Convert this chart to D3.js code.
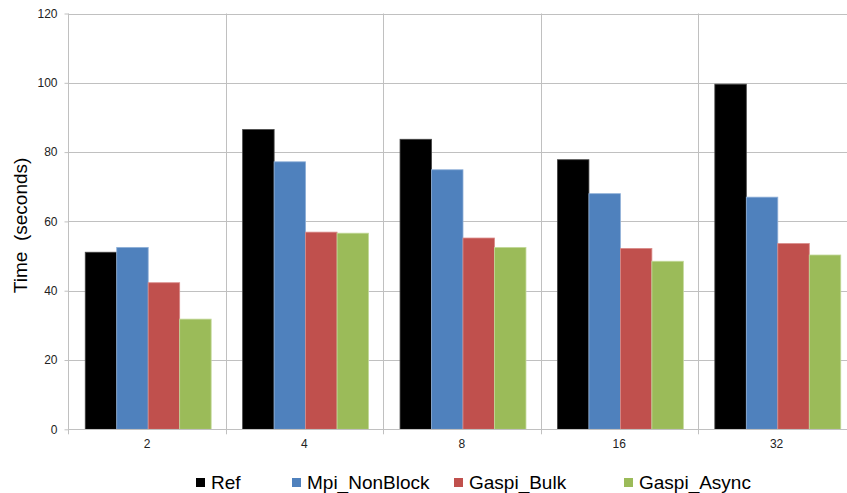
<!DOCTYPE html>
<html>
<head>
<meta charset="utf-8">
<script src="https://cdn.jsdelivr.net/npm/d3@7"></script>
<style>
  html, body { margin: 0; padding: 0; background: #fff; }
  svg { display: block; font-family: "Liberation Sans", Arial, sans-serif; }
</style>
</head>
<body>
<svg id="chart" width="847" height="493"></svg>
<script>
const categories = ["2", "4", "8", "16", "32"];
const seriesNames = ["Ref", "Mpi_NonBlock", "Gaspi_Bulk", "Gaspi_Async"];
const refValues = [51.1, 86.5, 83.7, 77.8, 99.6];
const mpiNonBlockValues = [52.5, 77.2, 74.9, 68.0, 67.0];
const gaspiBulkValues = [42.3, 56.9, 55.2, 52.2, 53.6];
const gaspiAsyncValues = [31.8, 56.6, 52.5, 48.5, 50.3];
const yTicks = [0, 20, 40, 60, 80, 100, 120];
const colors = ["#000000", "#4F81BD", "#C0504D", "#9BBB59"];
const strokes = ["#444444", "#8fb0d8", "#d98a88", "#c3d99a"];

const seriesValues = [refValues, mpiNonBlockValues, gaspiBulkValues, gaspiAsyncValues];

const svg = d3.select("#chart");
const plotLeft = 68.3, plotTop = 13.5, plotBottom = 429.3;
const band = 157.4;
const plotRight = plotLeft + band * categories.length;

const x = d3.scaleBand().domain(categories).range([plotLeft, plotRight]).padding(0);
const x1 = d3.scaleBand().domain(seriesNames).range([x.bandwidth() * 0.1, x.bandwidth() * 0.9]).padding(0);
const y = d3.scaleLinear().domain([0, 120]).range([plotBottom, plotTop]);

const grid = "#c0c0c0";

// horizontal gridlines
svg.append("g").selectAll("line").data(yTicks.filter(d => d > 0)).join("line")
  .attr("x1", plotLeft).attr("x2", plotRight)
  .attr("y1", d => Math.round(y(d)) + 0.5).attr("y2", d => Math.round(y(d)) + 0.5)
  .attr("stroke", grid).attr("stroke-width", 1);

// vertical gridlines at category boundaries
const bounds = categories.slice(1).map(c => x(c));
svg.append("g").selectAll("line").data(bounds).join("line")
  .attr("x1", d => Math.round(d) + 0.5).attr("x2", d => Math.round(d) + 0.5)
  .attr("y1", plotTop).attr("y2", plotBottom + 5)
  .attr("stroke", grid).attr("stroke-width", 1);

// bars
const groups = svg.append("g").selectAll("g").data(categories).join("g")
  .attr("transform", c => `translate(${x(c)},0)`);
groups.selectAll("rect").data((c, i) => seriesNames.map((s, j) => ({s, j, v: seriesValues[j][i]}))).join("rect")
  .attr("x", d => x1(d.s) + 1.2)
  .attr("width", x1.bandwidth())
  .attr("y", d => y(d.v))
  .attr("height", d => y(0) - y(d.v))
  .attr("fill", d => colors[d.j])
  .attr("stroke", d => strokes[d.j])
  .attr("stroke-width", 0.8);

// y axis
const yAxis = svg.append("g").attr("transform", `translate(${Math.round(plotLeft) + 0.5},0)`)
  .call(d3.axisLeft(y).tickValues(yTicks).tickSize(4).tickPadding(7).tickFormat(d3.format("d")));
yAxis.select(".domain").attr("stroke", grid).attr("d", `M0,${plotTop}V${plotBottom}`);
yAxis.selectAll(".tick line").attr("stroke", grid);
yAxis.selectAll(".tick text").attr("fill", "#222").attr("font-size", 12)
  .attr("font-family", "'Liberation Sans', Arial, sans-serif");

// x axis
const xAxis = svg.append("g").attr("transform", `translate(0,${Math.round(plotBottom) + 0.5})`)
  .call(d3.axisBottom(x).tickSize(0).tickPadding(10));
xAxis.select(".domain").attr("stroke", grid).attr("d", `M${plotLeft},0H${plotRight}`);
xAxis.selectAll(".tick text").attr("fill", "#222").attr("font-size", 12)
  .attr("font-family", "'Liberation Sans', Arial, sans-serif");
svg.append("line").attr("x1", Math.round(plotLeft) + 0.5).attr("x2", Math.round(plotLeft) + 0.5)
  .attr("y1", plotBottom).attr("y2", plotBottom + 5).attr("stroke", grid);

// y title
svg.append("text")
  .attr("transform", `translate(27,${(plotTop + plotBottom) / 2 + 4}) rotate(-90)`)
  .attr("text-anchor", "middle")
  .attr("font-size", 19)
  .attr("fill", "#000")
  .attr("xml:space", "preserve")
  .style("white-space", "pre")
  .text("Time  (seconds)");

// legend
const legendX = [196, 292, 454, 624];
const legend = svg.append("g").selectAll("g").data(seriesNames).join("g")
  .attr("transform", (d, i) => `translate(${legendX[i]},0)`);
legend.append("rect").attr("x", 0).attr("y", 478).attr("width", 9).attr("height", 9)
  .attr("fill", (d, i) => colors[i]);
legend.append("text").attr("x", 15).attr("y", 489).attr("font-size", 19).attr("fill", "#000")
  .text(d => d);
</script>
</body>
</html>
